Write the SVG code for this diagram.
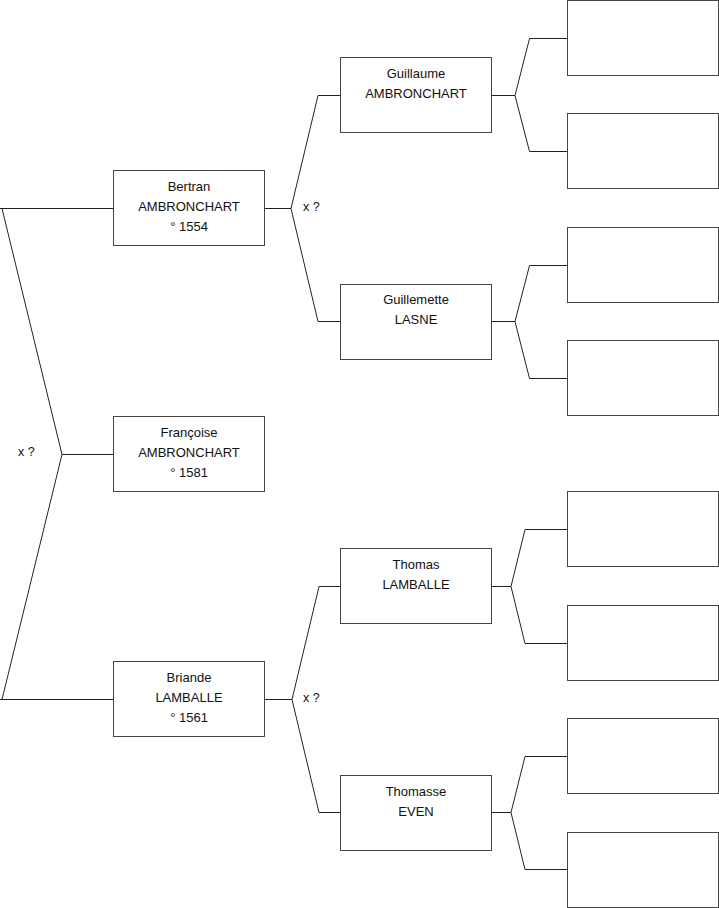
<svg xmlns="http://www.w3.org/2000/svg" width="719" height="908" viewBox="0 0 719 908">
<style>
.box{fill:#fff;stroke:#444;stroke-width:1}
.ln{fill:none;stroke:#222;stroke-width:1}
text{font-family:"Liberation Sans",Arial,sans-serif;font-size:13px;fill:#111;text-anchor:middle}
.lbl{text-anchor:start;font-size:12.5px}
</style>
<rect width="719" height="908" fill="#fff"/>
<g id="connectors">
<path class="ln" d="M0,208.5H113.5M2,208.5L62,454.5L2,699.5M0,699.5H113.5M62,454.5H113.5"/>
<path class="ln" d="M265,208.5H291L318,95.5H340.5M291,208.5L318,321.5H340.5"/>
<path class="ln" d="M265,699.5H292L319,586.5H340.5M292,699.5L319,812.5H340.5"/>
<path class="ln" d="M492,95.5H515L529.5,38.5H567M515,95.5L529.5,151.5H567"/>
<path class="ln" d="M492,321.5H515L529.5,265.5H567M515,321.5L529.5,378.5H567"/>
<path class="ln" d="M492,586.5H511L525,529.5H567M511,586.5L525,643.5H567"/>
<path class="ln" d="M492,812.5H511L525,756.5H567M511,812.5L525,869.5H567"/>
<text class="lbl" x="18" y="456">x ?</text>
<text class="lbl" x="303" y="211">x ?</text>
<text class="lbl" x="303" y="702">x ?</text>
</g>
<g id="francoise"><rect class="box" x="113.5" y="416.5" width="151" height="75"/><text x="189" y="437">Françoise</text><text x="189" y="457">AMBRONCHART</text><text x="189" y="477">° 1581</text></g>
<g id="bertran"><rect class="box" x="113.5" y="170.5" width="151" height="75"/><text x="189" y="191">Bertran</text><text x="189" y="211">AMBRONCHART</text><text x="189" y="231">° 1554</text></g>
<g id="briande"><rect class="box" x="113.5" y="661.5" width="151" height="75"/><text x="189" y="682">Briande</text><text x="189" y="702">LAMBALLE</text><text x="189" y="722">° 1561</text></g>
<g id="guillaume"><rect class="box" x="340.5" y="57.5" width="151" height="75"/><text x="416" y="78">Guillaume</text><text x="416" y="98">AMBRONCHART</text></g>
<g id="guillemette"><rect class="box" x="340.5" y="284.5" width="151" height="75"/><text x="416" y="304">Guillemette</text><text x="416" y="324">LASNE</text></g>
<g id="thomas"><rect class="box" x="340.5" y="548.5" width="151" height="75"/><text x="416" y="569">Thomas</text><text x="416" y="589">LAMBALLE</text></g>
<g id="thomasse"><rect class="box" x="340.5" y="775.5" width="151" height="75"/><text x="416" y="796">Thomasse</text><text x="416" y="816">EVEN</text></g>
<g id="g3-1"><rect class="box" x="567.5" y="0.5" width="151" height="75"/></g>
<g id="g3-2"><rect class="box" x="567.5" y="113.5" width="151" height="75"/></g>
<g id="g3-3"><rect class="box" x="567.5" y="227.5" width="151" height="75"/></g>
<g id="g3-4"><rect class="box" x="567.5" y="340.5" width="151" height="75"/></g>
<g id="g3-5"><rect class="box" x="567.5" y="491.5" width="151" height="75"/></g>
<g id="g3-6"><rect class="box" x="567.5" y="605.5" width="151" height="75"/></g>
<g id="g3-7"><rect class="box" x="567.5" y="718.5" width="151" height="75"/></g>
<g id="g3-8"><rect class="box" x="567.5" y="832.5" width="151" height="75"/></g>
</svg>
